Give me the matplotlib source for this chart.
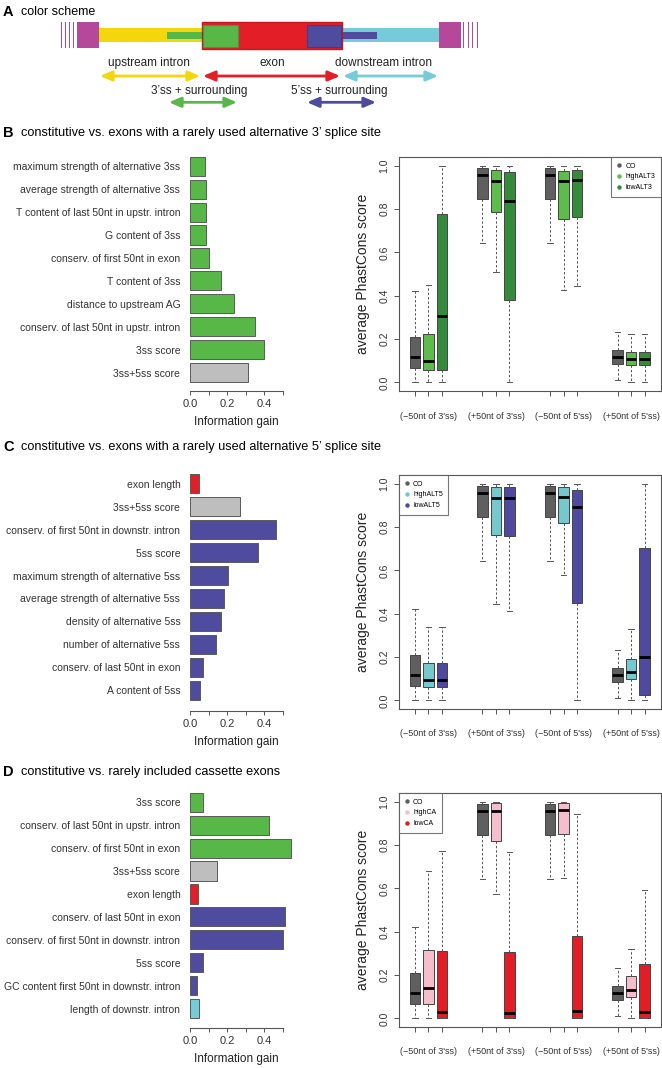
import matplotlib
matplotlib.use("Agg")
import matplotlib.pyplot as plt
from matplotlib.patches import Rectangle
from matplotlib.lines import Line2D

plt.rcParams['font.family'] = ['Liberation Sans', 'DejaVu Sans']

# ---- Data: information gain per feature (top to bottom) ----
b_features = ["maximum strength of alternative 3ss", "average strength of alternative 3ss",
              "T content of last 50nt in upstr. intron", "G content of 3ss",
              "conserv. of first 50nt in exon", "T content of 3ss", "distance to upstream AG",
              "conserv. of last 50nt in upstr. intron", "3ss score", "3ss+5ss score"]
b_gain = [0.081, 0.085, 0.086, 0.087, 0.104, 0.169, 0.238, 0.350, 0.402, 0.312]
b_region = ["3ss"] * 9 + ["both"]

c_features = ["exon length", "3ss+5ss score", "conserv. of first 50nt in downstr. intron",
              "5ss score", "maximum strength of alternative 5ss", "average strength of alternative 5ss",
              "density of alternative 5ss", "number of alternative 5ss",
              "conserv. of last 50nt in exon", "A content of 5ss"]
c_gain = [0.049, 0.272, 0.463, 0.368, 0.204, 0.186, 0.169, 0.141, 0.069, 0.054]
c_region = ["exon", "both"] + ["5ss"] * 8

d_features = ["3ss score", "conserv. of last 50nt in upstr. intron", "conserv. of first 50nt in exon",
              "3ss+5ss score", "exon length", "conserv. of last 50nt in exon",
              "conserv. of first 50nt in downstr. intron", "5ss score",
              "GC content first 50nt in downstr. intron", "length of downstr. intron"]
d_gain = [0.072, 0.427, 0.548, 0.146, 0.041, 0.514, 0.503, 0.070, 0.038, 0.047]
d_region = ["3ss", "3ss", "3ss", "both", "exon", "5ss", "5ss", "5ss", "5ss", "downstream"]

# ---- Data: PhastCons boxplots, per group [whislo, q1, median, q3, whishi] ----
groups = ["(\u221250nt of 3'ss)", "(+50nt of 3'ss)", "(\u221250nt of 5'ss)", "(+50nt of 5'ss)"]
co = [[0.0, 0.065, 0.116, 0.210, 0.423], [0.642, 0.844, 0.955, 0.989, 1.0],
      [0.642, 0.844, 0.955, 0.988, 1.0], [0.009, 0.086, 0.119, 0.148, 0.233]]
high_alt3 = [[0.0, 0.058, 0.099, 0.222, 0.448], [0.508, 0.788, 0.931, 0.980, 1.0],
             [0.425, 0.753, 0.931, 0.977, 1.0], [0.0, 0.078, 0.106, 0.139, 0.225]]
low_alt3 = [[0.0, 0.055, 0.304, 0.776, 1.0], [0.0, 0.380, 0.839, 0.972, 1.0],
            [0.446, 0.764, 0.934, 0.980, 1.0], [0.0, 0.078, 0.106, 0.139, 0.225]]
high_alt5 = [[0.0, 0.060, 0.092, 0.172, 0.337], [0.445, 0.763, 0.935, 0.985, 1.0],
             [0.580, 0.818, 0.940, 0.985, 1.0], [0.0, 0.098, 0.129, 0.192, 0.329]]
low_alt5 = [[0.0, 0.060, 0.092, 0.172, 0.337], [0.414, 0.757, 0.935, 0.985, 1.0],
            [0.0, 0.451, 0.891, 0.971, 1.0], [0.0, 0.025, 0.202, 0.703, 1.0]]
high_ca = [[0.0, 0.065, 0.142, 0.314, 0.678], [0.575, 0.818, 0.955, 0.995, 1.0],
           [0.647, 0.852, 0.963, 0.995, 1.0], [0.003, 0.099, 0.129, 0.194, 0.320]]
low_ca = [[0.0, 0.003, 0.029, 0.311, 0.773], [0.0, 0.003, 0.025, 0.308, 0.769],
          [0.0, 0.003, 0.032, 0.381, 0.945], [0.0, 0.003, 0.028, 0.253, 0.592]]

# ---- Styles ----
GREEN = "#57b848"
PURPLE = "#4f4c9f"
RED = "#e41e26"
CYAN = "#76cbd8"
YELLOW = "#f4d60c"
MAGENTA = "#b5489b"
GREY = "#bebebe"
region_color = {"3ss": GREEN, "5ss": PURPLE, "exon": RED, "both": GREY, "downstream": CYAN}
box_colors = {"CO": "#5f5f5f", "highALT3": "#5dbd4b", "lowALT3": "#348b3b",
              "highALT5": "#76c8cf", "lowALT5": "#4f4a9f", "highCA": "#f6bdcc", "lowCA": "#e31d26"}

W, H = 662, 1068
fig = plt.figure(figsize=(W / 100, H / 100), dpi=100)


def px_axes(left, top, right, bottom):
    return fig.add_axes([left / W, 1 - bottom / H, (right - left) / W, (bottom - top) / H])


def fig_text(x, y, s, **kw):
    fig.text(x / W, 1 - y / H, s, va="center", **kw)


# ---- Panel A: colour scheme ----
fig_text(3, 12, "A", fontsize=10.5, fontweight="bold")
fig_text(21, 12, "color scheme", fontsize=9)
ax0 = px_axes(0, 0, W, 125)
ax0.set_xlim(0, W)
ax0.set_ylim(125, 0)
ax0.axis("off")
for x in [60.5, 64.5, 68.5, 72.5, 463, 467.5, 472, 476.5]:
    ax0.add_patch(Rectangle((x, 22.3), 1.3, 26, color=MAGENTA, lw=0))
ax0.add_patch(Rectangle((77, 22.3), 22.3, 26, color=MAGENTA, lw=0))
ax0.add_patch(Rectangle((439.3, 22.3), 21.4, 26, color=MAGENTA, lw=0))
ax0.add_patch(Rectangle((99.3, 28.3), 103, 13.4, color=YELLOW, lw=0))
ax0.add_patch(Rectangle((342, 28.3), 97.3, 13.4, color=CYAN, lw=0))
ax0.add_patch(Rectangle((167.3, 32.3), 36, 6.4, color=GREEN, lw=0))
ax0.add_patch(Rectangle((341, 32.3), 36, 6.4, color=PURPLE, lw=0))
ax0.add_patch(Rectangle((202.3, 22.3), 140, 26.4, facecolor=RED, edgecolor="#c8161e", lw=1))
ax0.add_patch(Rectangle((203.3, 24.7), 35, 22, facecolor=GREEN, edgecolor="#3f9a3a", lw=0.8))
ax0.add_patch(Rectangle((306.7, 24.7), 34.3, 22, facecolor=PURPLE, edgecolor="#3f3c8a", lw=0.8))


def darrow(x0, x1, y, color):
    ax0.annotate("", xy=(x1, y), xytext=(x0, y),
                 arrowprops=dict(arrowstyle="<|-|>,head_length=0.7,head_width=0.3",
                                 color=color, lw=2, mutation_scale=10, shrinkA=0, shrinkB=0))


darrow(100, 200, 76, YELLOW)
darrow(203, 340, 76, RED)
darrow(343, 438, 76, CYAN)
darrow(169, 237, 102.3, GREEN)
darrow(307, 376, 102.3, PURPLE)
for x, y, s in [(149.3, 63.3, "upstream intron"), (272.7, 63.3, "exon"),
                (383.3, 63.3, "downstream intron"), (199.3, 91, "3\u2019ss + surrounding"),
                (339, 91, "5\u2019ss + surrounding")]:
    ax0.text(x, y, s, ha="center", va="center", fontsize=8.5, color="#222")


# ---- Bar charts ----
def bar_panel(top_px, axis_px, features, gain, region):
    pitch = 22.93
    c0 = top_px + 9.55
    ax = px_axes(190, top_px - 5, 282.5, axis_px)
    ypos = list(range(len(features)))
    ax.barh(ypos, gain, height=0.833, color=[region_color[r] for r in region],
            edgecolor="#5a5a5a", linewidth=0.7, clip_on=False)
    ax.set_xlim(0, 0.5)
    ax.set_ylim((axis_px - c0) / pitch, -(c0 - top_px + 5) / pitch)
    for s in ["top", "right", "left"]:
        ax.spines[s].set_visible(False)
    ax.spines["bottom"].set_color("#555")
    ax.spines["bottom"].set_linewidth(0.8)
    ax.set_yticks(ypos)
    ax.set_yticklabels(features, fontsize=7.5, color="#333")
    ax.tick_params(axis="y", length=0, pad=7)
    ax.set_xticks([0, 0.1, 0.2, 0.3, 0.4, 0.5])
    ax.set_xticklabels(["0.0", "", "0.2", "", "0.4", ""], fontsize=8, color="#333")
    ax.tick_params(axis="x", length=3, width=0.7, color="#555", pad=2.5)
    ax.text(0.5, -31 / (axis_px - top_px + 5), "Information gain", transform=ax.transAxes,
            ha="center", va="center", fontsize=8.5, color="#222")
    return ax


# ---- Boxplots ----
def box_panel(top_px, bottom_px, series, names, legend_loc):
    ax = px_axes(398.5, top_px, 661, bottom_px)
    all_pos = []
    for k, (vals, name) in enumerate(zip(series, names)):
        stats = []
        pos = []
        for g, v in enumerate(vals):
            stats.append(dict(whislo=v[0], q1=v[1], med=v[2], q3=v[3], whishi=v[4], fliers=[]))
            pos.append(1 + 5 * g + k)
        all_pos += pos
        ax.bxp(stats, positions=pos, widths=0.78, patch_artist=True, showfliers=False,
               capwidths=0.38,
               boxprops=dict(facecolor=box_colors[name], edgecolor="#444", linewidth=0.7),
               medianprops=dict(color="black", linewidth=2.0, solid_capstyle="butt"),
               whiskerprops=dict(color="#555", linewidth=0.7, linestyle=(0, (2.5, 2))),
               capprops=dict(color="#555", linewidth=0.7))
    ax.set_xlim(-0.22, 19.22)
    ax.set_ylim(-0.04, 1.04)
    ax.set_xticks(sorted(all_pos))
    ax.set_xticklabels([])
    ax.tick_params(axis="x", length=3.5, width=0.7, color="#555")
    ax.set_yticks([0, 0.2, 0.4, 0.6, 0.8, 1.0])
    ax.set_yticklabels(["0.0", "0.2", "0.4", "0.6", "0.8", "1.0"], rotation=90, va="center",
                       fontsize=7.5, color="#333")
    ax.tick_params(axis="y", length=3.5, width=0.7, color="#555", pad=3)
    for s in ax.spines.values():
        s.set_color("#555")
        s.set_linewidth(0.8)
    h = bottom_px - top_px
    for g, lab in enumerate(groups):
        ax.text(2 + 5 * g, -25 / h, lab, transform=ax.get_xaxis_transform(),
                ha="center", va="center", fontsize=6.5, color="#333")
    ax.text(-35.5 / 262.5, 0.5, "average PhastCons score", transform=ax.transAxes,
            rotation=90, ha="center", va="center", fontsize=10, color="#222")
    handles = [Line2D([], [], marker="o", ls="", color=box_colors[n], markersize=2.2) for n in names]
    leg = ax.legend(handles, names, loc=legend_loc, fontsize=5, frameon=True, fancybox=False,
                    borderaxespad=0, handlelength=0.8, handletextpad=0.5, labelspacing=0.55,
                    borderpad=0.8)
    leg.get_frame().set_edgecolor("#555")
    leg.get_frame().set_linewidth(0.8)
    return ax


# B
fig_text(3, 133, "B", fontsize=10.5, fontweight="bold")
fig_text(21, 133, "constitutive vs. exons with a rarely used alternative 3\u2019 splice site", fontsize=9.2)
bar_panel(156.7, 391, b_features, b_gain, b_region)
box_panel(157, 391, [co, high_alt3, low_alt3], ["CO", "highALT3", "lowALT3"], "upper right")

# C
fig_text(3, 447, "C", fontsize=10.5, fontweight="bold")
fig_text(21, 447, "constitutive vs. exons with a rarely used alternative 5\u2019 splice site", fontsize=9.2)
bar_panel(474.3, 711, c_features, c_gain, c_region)
box_panel(475, 709, [co, high_alt5, low_alt5], ["CO", "highALT5", "lowALT5"], "upper left")

# D
fig_text(3, 772, "D", fontsize=10.5, fontweight="bold")
fig_text(21, 772, "constitutive vs. rarely included cassette exons", fontsize=9.2)
bar_panel(792.7, 1028.3, d_features, d_gain, d_region)
box_panel(793, 1027, [co, high_ca, low_ca], ["CO", "highCA", "lowCA"], "upper left")

fig.savefig("out.png", dpi=100)
